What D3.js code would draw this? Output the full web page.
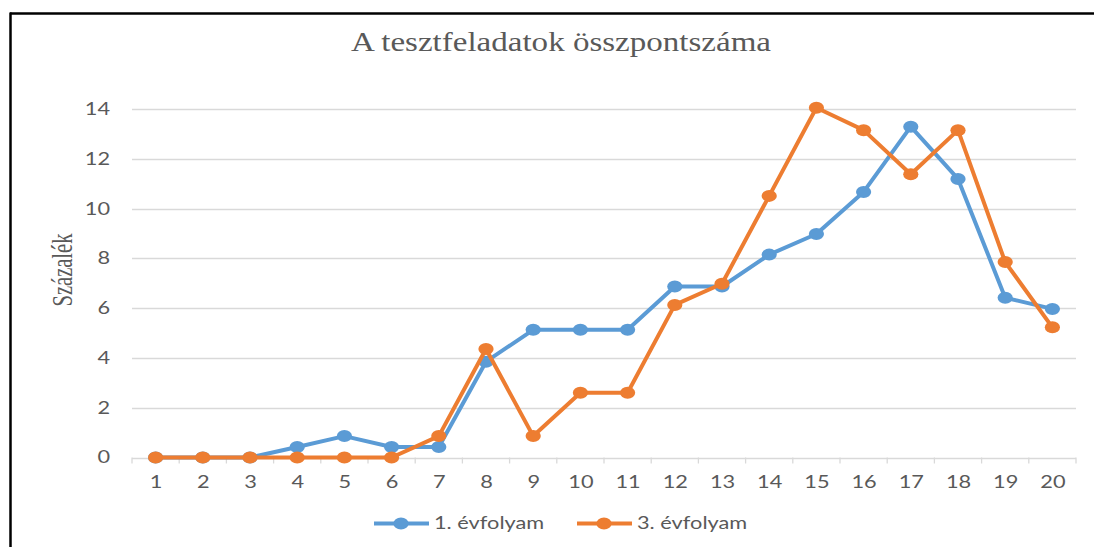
<!DOCTYPE html>
<html>
<head>
<meta charset="utf-8">
<script src="https://cdn.jsdelivr.net/npm/d3@7"></script>
<style>
  body { margin: 0; background: #fff; }
  svg { display: block; }
</style>
</head>
<body>
<svg id="chart"></svg>
<script>
// data
const categories = ["1","2","3","4","5","6","7","8","9","10","11","12","13","14","15","16","17","18","19","20"];
const grade1 = [0, 0, 0, 0.42, 0.86, 0.42, 0.42, 3.85, 5.13, 5.13, 5.13, 6.87, 6.87, 8.15, 8.98, 10.67, 13.29, 11.19, 6.42, 5.97];
const grade3 = [0, 0, 0, 0, 0, 0, 0.86, 4.36, 0.86, 2.6, 2.6, 6.13, 6.98, 10.51, 14.05, 13.15, 11.38, 13.15, 7.85, 5.23];
const seriesNames = ["1. évfolyam", "3. évfolyam"];
const yTicks = [0, 2, 4, 6, 8, 10, 12, 14];

const W = 1094, H = 547;
const colors = ["#5b9bd5", "#ed7d31"];
const textColor = "#595959";
const stretch = 1.18;     // the picture is a bit wider than tall
const sansStretch = 1.28;

const svg = d3.select("#chart").attr("width", W).attr("height", H);

// frame (only top and left edges are visible)
svg.append("line").attr("x1", 10).attr("x2", W).attr("y1", 13.5).attr("y2", 13.5)
   .attr("stroke", "#000").attr("stroke-width", 2.5);
svg.append("line").attr("x1", 10.5).attr("x2", 10.5).attr("y1", 12.5).attr("y2", H)
   .attr("stroke", "#000").attr("stroke-width", 2.5);

// scales
const x = d3.scalePoint().domain(categories).range([132, 1076]).padding(0.5);
const xb = d3.scaleBand().domain(categories).range([132, 1076]);
const y = d3.scaleLinear().domain([0, 14]).range([457.5, 109]);

// gridlines
svg.append("g").selectAll("line")
   .data(yTicks)
   .enter().append("line")
   .attr("x1", 132).attr("x2", 1076)
   .attr("y1", d => Math.round(y(d)) + 0.5).attr("y2", d => Math.round(y(d)) + 0.5)
   .attr("stroke", "#d9d9d9").attr("stroke-width", 1.3);

// category boundary ticks on x axis
svg.append("g").selectAll("line")
   .data(categories.concat(["end"]))
   .enter().append("line")
   .attr("x1", d => d === "end" ? 1076 : xb(d)).attr("x2", d => d === "end" ? 1076 : xb(d))
   .attr("y1", y(0)).attr("y2", y(0) + 6)
   .attr("stroke", "#d9d9d9").attr("stroke-width", 1.3);

// x axis labels
const xAxis = svg.append("g")
   .attr("transform", `translate(0, ${y(0)})`)
   .call(d3.axisBottom(x).tickSize(0));
xAxis.select(".domain").remove();
xAxis.selectAll("text")
   .attr("y", 30.5).attr("dy", null)
   .attr("transform", `scale(${sansStretch},1)`)
   .attr("x", 0);

// y axis labels
const yAxis = svg.append("g")
   .attr("transform", "translate(132, 0)")
   .call(d3.axisLeft(y).tickValues(yTicks).tickSize(0).tickPadding(0));
yAxis.select(".domain").remove();
yAxis.selectAll("text")
   .attr("x", -22 / sansStretch)
   .attr("transform", `scale(${sansStretch},1)`);

svg.selectAll(".tick text")
   .attr("font-family", "Lato, 'Open Sans', sans-serif")
   .attr("font-size", 17)
   .attr("fill", textColor);

// title
svg.append("text")
   .attr("transform", `translate(561, 51) scale(${stretch},1)`)
   .attr("text-anchor", "middle")
   .attr("font-family", "'Liberation Serif', 'Times New Roman', serif")
   .attr("font-size", 28)
   .attr("fill", textColor)
   .text("A tesztfeladatok összpontszáma");

// y axis title
svg.append("text")
   .attr("transform", `translate(71.5, 270) rotate(-90) scale(1,1.4)`)
   .attr("text-anchor", "middle")
   .attr("font-family", "'Liberation Serif', 'Times New Roman', serif")
   .attr("font-size", 20.5)
   .attr("fill", textColor)
   .text("Százalék");

// lines and markers
const series = [grade1, grade3];
const line = d3.line()
   .x((d, i) => x(categories[i]))
   .y(d => y(d));

series.forEach((values, s) => {
  const g = svg.append("g");
  g.append("path")
   .datum(values)
   .attr("d", line)
   .attr("fill", "none")
   .attr("stroke", colors[s])
   .attr("stroke-width", 4)
   .attr("stroke-linejoin", "round");
  g.selectAll("ellipse")
   .data(values)
   .enter().append("ellipse")
   .attr("cx", (d, i) => x(categories[i]))
   .attr("cy", d => y(d))
   .attr("rx", 7.6).attr("ry", 6)
   .attr("fill", colors[s]);
});

// legend
const legendX = [374, 577];
seriesNames.forEach((name, s) => {
  const lx = legendX[s];
  svg.append("line")
     .attr("x1", lx).attr("x2", lx + 55)
     .attr("y1", 523.5).attr("y2", 523.5)
     .attr("stroke", colors[s]).attr("stroke-width", 4);
  svg.append("ellipse")
     .attr("cx", lx + 27).attr("cy", 523.5)
     .attr("rx", 7.6).attr("ry", 6)
     .attr("fill", colors[s]);
  svg.append("text")
     .attr("transform", `translate(${lx + 60}, 529) scale(${sansStretch},1)`)
     .attr("font-family", "Lato, 'Open Sans', sans-serif")
     .attr("font-size", 17)
     .attr("fill", textColor)
     .text(name);
});
</script>
</body>
</html>
